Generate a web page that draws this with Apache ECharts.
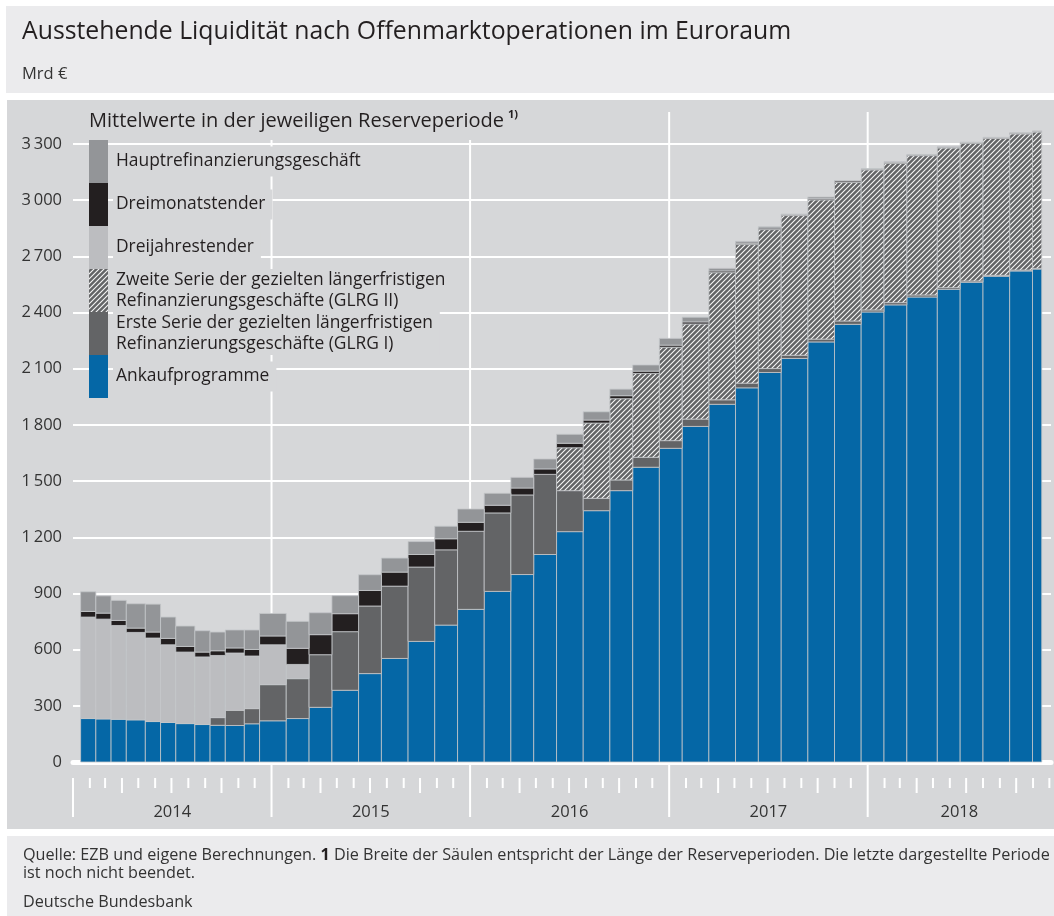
<!DOCTYPE html>
<html><head><meta charset="utf-8">
<script src="https://cdn.jsdelivr.net/npm/echarts@6/dist/echarts.min.js"></script>
<style>
html,body{margin:0;padding:0;background:#fff;}
.panel{position:absolute;}
#chart{position:absolute;left:0;top:0;width:1054px;height:916px;}
</style></head><body>
<div class="panel" style="left:6px;top:6px;width:1048px;height:87px;background:#ebebed"></div>
<div class="panel" style="left:7px;top:100px;width:1047px;height:729px;background:#d6d7d9"></div>
<div class="panel" style="left:7px;top:836px;width:1047px;height:80px;background:#ebebed"></div>
<div id="chart"></div>
<script>
// Reserve maintenance periods (start / end, inclusive)
const periodStart = ['2014-01-15','2014-02-12','2014-03-12','2014-04-09','2014-05-14','2014-06-11','2014-07-09','2014-08-13','2014-09-10','2014-10-08','2014-11-12','2014-12-10',
'2015-01-28','2015-03-11','2015-04-22','2015-06-10','2015-07-22','2015-09-09','2015-10-28','2015-12-09',
'2016-01-27','2016-03-16','2016-04-27','2016-06-08','2016-07-27','2016-09-14','2016-10-26','2016-12-14',
'2017-01-25','2017-03-15','2017-05-03','2017-06-14','2017-07-26','2017-09-13','2017-11-01','2017-12-20',
'2018-01-31','2018-03-14','2018-05-09','2018-06-20','2018-08-01','2018-09-19','2018-10-31'];
const periodEnd = ['2014-02-11','2014-03-11','2014-04-08','2014-05-13','2014-06-10','2014-07-08','2014-08-12','2014-09-09','2014-10-07','2014-11-11','2014-12-09','2015-01-27',
'2015-03-10','2015-04-21','2015-06-09','2015-07-21','2015-09-08','2015-10-27','2015-12-08','2016-01-26',
'2016-03-15','2016-04-26','2016-06-07','2016-07-26','2016-09-13','2016-10-25','2016-12-13','2017-01-24',
'2017-03-14','2017-05-02','2017-06-13','2017-07-25','2017-09-12','2017-10-31','2017-12-19','2018-01-30',
'2018-03-13','2018-05-08','2018-06-19','2018-07-31','2018-09-18','2018-10-30','2018-11-16'];

// Values in Mrd €
const ankaufprogramme = [232,230,228,225,216,211,205,200,196,195,204,220,
232,292,383,472,553,644,731,815,
911,1001,1108,1230,1342,1449,1574,1675,
1792,1910,1998,2080,2155,2243,2337,2403,
2441,2483,2524,2562,2594,2622,2632];
const glrg1 = [0,0,0,0,0,0,0,0,41,81,81,193,
213,281,313,361,386,397,402,417,
419,425,428,219,66,57,53,41,
39,24,25,21,17,15,18,11,
12,11,9,7,5,5,4];
const glrg2 = [0,0,0,0,0,0,0,0,0,0,0,0,
0,0,0,0,0,0,0,0,
0,0,0,229,402,434,448,499,
508,679,740,742,746,744,740,748,
744,744,746,735,731,727,728];
const dreijahrestender = [542,533,501,467,446,415,382,361,332,306,281,213,
76,0,0,0,0,0,0,0,
0,0,0,0,0,0,0,0,
0,0,0,0,0,0,0,0,
0,0,0,0,0,0,0];
const dreimonatstender = [30,32,27,23,32,34,30,26,25,27,35,47,
86,107,96,83,75,67,59,48,
41,37,29,24,16,16,12,11,
11,9,7,8,5,6,8,4,
5,4,4,4,4,4,4];
const hauptrefinanzierung = [105,92,107,130,149,114,109,114,100,96,104,120,
144,117,96,84,75,69,67,71,
64,57,53,48,44,35,33,36,
25,14,10,7,3,9,2,2,
3,2,2,2,2,2,2];

const seriesNames = ['Ankaufprogramme',
  'Erste Serie der gezielten längerfristigen\nRefinanzierungsgeschäfte (GLRG I)',
  'Zweite Serie der gezielten längerfristigen\nRefinanzierungsgeschäfte (GLRG II)',
  'Dreijahrestender','Dreimonatstender','Hauptrefinanzierungsgeschäft'];
const yearLabels = ['2014','2015','2016','2017','2018'];
const axisStart = '2014-01-01';
const axisEnd = '2018-12-04';
const yMin = 0, yMax = 3300, yInterval = 300;

const FONT = "'Open Sans','Noto Sans',sans-serif";
const DAY = 86400000;
function T(s){const p=s.split('-').map(Number);return Date.UTC(p[0],p[1]-1,p[2]);}

function hatchCanvas(){
  const s=5,c=document.createElement('canvas');c.width=s;c.height=s;
  const g=c.getContext('2d');
  g.fillStyle='#636466';g.fillRect(0,0,s,s);
  g.strokeStyle='rgba(255,255,255,0.95)';g.lineWidth=1.1;
  g.beginPath();
  g.moveTo(-1,s+1);g.lineTo(s+1,-1);
  g.moveTo(-1,1);g.lineTo(1,-1);
  g.moveTo(s-1,s+1);g.lineTo(s+1,s-1);
  g.stroke();
  return c;
}
const hatch = {image: hatchCanvas(), repeat: 'repeat'};
const colors = ['#0567a6','#636466',hatch,'#bcbdc0','#231f20','#939598'];
const valueArrays = [ankaufprogramme,glrg1,glrg2,dreijahrestender,dreimonatstender,hauptrefinanzierung];

const xMin = T(axisStart), xMax = T(axisEnd);
const base = periodStart.map(()=>0);
const barSeries = valueArrays.map((arr,k)=>{
  const data = arr.map((v,i)=>{
    const b = base[i]; base[i] += v;
    return [T(periodStart[i]), T(periodEnd[i])+DAY, b, b+v];
  });
  const fill = colors[k];
  return {
    type:'custom', name: seriesNames[k], z: 3, silent: true,
    itemStyle:{color: fill},
    encode:{x:[0,1], y:[2,3]},
    data,
    renderItem(params, api){
      const y0=api.value(2), y1=api.value(3);
      if (y1-y0 <= 0) return null;
      const p0=api.coord([api.value(0), y0]);
      const p1=api.coord([api.value(1), y1]);
      return {type:'rect', shape:{x:p0[0], y:p1[1], width:p1[0]-p0[0], height:p0[1]-p1[1]},
        style:{fill: fill, stroke:'#c4c6c9', lineWidth:0.8}};
    }
  };
});

// decorations along the time axis
const yearStarts = yearLabels.map(y=>T(y+'-01-01'));
const yearLineSeries = {
  type:'custom', silent:true, z:1, encode:{x:0,y:1},
  data: yearStarts.map(t=>[t,0]),
  renderItem(params, api){
    const p0=api.coord([api.value(0),0]);
    const pt=api.coord([api.value(0),yMax]);
    const top = params.dataIndex===0 ? p0[1]+16 : pt[1]-32;
    return {type:'line', shape:{x1:p0[0],y1:top,x2:p0[0],y2:p0[1]+55}, style:{stroke:'#fff', lineWidth:2}};
  }
};
const monthTicks = [];
for (let y=2014;y<=2018;y++) for (let m=2;m<=12;m++){
  const t = Date.UTC(y,m-1,1); if (t<=xMax) monthTicks.push([t, (m-1)%3===0?1:0]);
}
const tickSeries = {
  type:'custom', silent:true, z:1, encode:{x:0,y:1},
  data: monthTicks.map(d=>[d[0],0,d[1]]),
  renderItem(params, api){
    const p=api.coord([api.value(0),0]);
    const len = api.value(2) ? 31 : 26;
    return {type:'line', shape:{x1:p[0],y1:p[1]+16,x2:p[0],y2:p[1]+len}, style:{stroke:'#fff', lineWidth:2}};
  }
};
const yearLabelSeries = {
  type:'custom', silent:true, z:1, encode:{x:0,y:1},
  data: yearStarts.map((t,i)=>{
    const e = i<yearStarts.length-1 ? yearStarts[i+1] : T((+yearLabels[i]+1)+'-01-01');
    return [(t+Math.min(e,xMax))/2, 0];
  }),
  renderItem(params, api){
    const p=api.coord([api.value(0),0]);
    return {type:'text', x:p[0], y:p[1]+50, style:{text: yearLabels[params.dataIndex], fill:'#333',
      font: '16.5px '+FONT, align:'center', verticalAlign:'middle'}};
  }
};

const legendOrder = [5,4,3,2,1,0];
const option = {
  animation:false,
  title:[
    {text:'Ausstehende Liquidität nach Offenmarktoperationen im Euroraum', left:22, top:17, padding:0,
      textStyle:{fontFamily:FONT, fontSize:24.8, fontWeight:'normal', color:'#231f20', lineHeight:30}},
    {text:'Mrd €', left:22, top:64, padding:0,
      textStyle:{fontFamily:FONT, fontSize:16.5, fontWeight:'normal', color:'#333', lineHeight:20}},
    {text:'Mittelwerte in der jeweiligen Reserveperiode{sup|1)}', left:89, top:102, padding:[7,8,7,0],
      backgroundColor:'#d6d7d9',
      textStyle:{fontFamily:FONT, fontSize:20, fontWeight:'normal', color:'#231f20', lineHeight:24,
        rich:{sup:{fontFamily:FONT, fontSize:11, fontWeight:'bold', color:'#231f20', verticalAlign:'top', lineHeight:24, padding:[0,0,11,4]}}}},
    {text:'Quelle: EZB und eigene Berechnungen. {b|1} Die Breite der Säulen entspricht der Länge der Reserveperioden. Die letzte dargestellte Periode\nist noch nicht beendet.',
      left:23, top:846, padding:0,
      textStyle:{fontFamily:FONT, fontSize:16.2, fontWeight:'normal', color:'#333', lineHeight:18.5,
        rich:{b:{fontFamily:FONT, fontSize:16.2, fontWeight:'bold', color:'#231f20', lineHeight:18.5}}}},
    {text:'Deutsche Bundesbank', left:23, top:893, padding:0,
      textStyle:{fontFamily:FONT, fontSize:16.2, fontWeight:'normal', color:'#333', lineHeight:18}}
  ],
  legend:{
    orient:'vertical', left:89, top:140, itemGap:0, itemWidth:19, itemHeight:43, icon:'rect',
    selectedMode:false, padding:0,
    data: legendOrder.map(k=>{
      const two = seriesNames[k].indexOf('\n')>=0;
      return {name: seriesNames[k], textStyle: two ? {lineHeight:20.5, padding:[1,7,1,3]} : {lineHeight:18, padding:[6,7,6,3]}};
    }),
    textStyle:{fontFamily:FONT, fontSize:17.4, color:'#231f20', backgroundColor:'#d6d7d9', padding:[6,7,6,3]}
  },
  grid:{left:73, top:144, width:978, height:618, containLabel:false},
  xAxis:{type:'time', min:xMin, max:xMax,
    axisLine:{show:true, lineStyle:{color:'#fff', width:5}},
    axisTick:{show:false}, axisLabel:{show:false}, splitLine:{show:false}},
  yAxis:{type:'value', min:yMin, max:yMax, interval:yInterval,
    axisLine:{show:false}, axisTick:{show:false},
    splitLine:{show:true, lineStyle:{color:'#fff', width:2}},
    axisLabel:{margin:11, color:'#333', fontFamily:FONT, fontSize:16.5,
      formatter:v=> v>=1000 ? Math.floor(v/1000)+'\u2009'+String(v%1000).padStart(3,'0') : String(v)}},
  series:[yearLineSeries, ...barSeries, tickSeries, yearLabelSeries]
};
const chart = echarts.init(document.getElementById('chart'), null, {renderer:'canvas'});
chart.setOption(option);
</script></body></html>
